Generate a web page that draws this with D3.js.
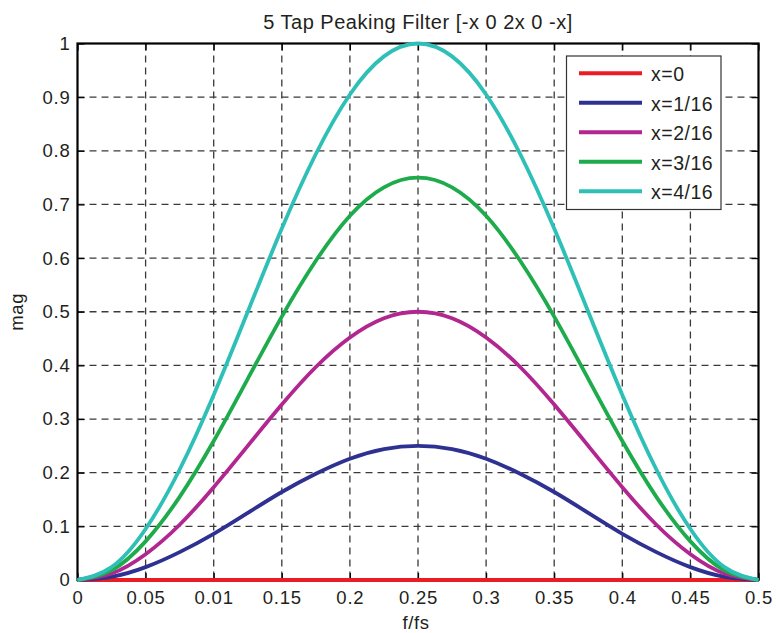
<!DOCTYPE html>
<html>
<head>
<meta charset="utf-8">
<script src="https://cdn.jsdelivr.net/npm/d3@7"></script>
<style>
  html, body { margin: 0; padding: 0; background: #fff; }
  svg { display: block; font-family: "Liberation Sans", Arial, sans-serif; }
</style>
</head>
<body>
<svg id="chart" width="776" height="633"></svg>
<script>
// ---- data ----
const freq = [0, 0.025, 0.05, 0.075, 0.1, 0.125, 0.15, 0.175, 0.2, 0.225, 0.25,
              0.275, 0.3, 0.325, 0.35, 0.375, 0.4, 0.425, 0.45, 0.475, 0.5];
const seriesNames = ["x=0", "x=1/16", "x=2/16", "x=3/16", "x=4/16"];
const magX0 = [0,0,0,0,0,0,0,0,0,0,0,0,0,0,0,0,0,0,0,0,0];
const magX1 = [0, 0.006, 0.024, 0.052, 0.086, 0.125, 0.164, 0.198, 0.226, 0.244, 0.25,
               0.244, 0.226, 0.198, 0.164, 0.125, 0.086, 0.052, 0.024, 0.006, 0];
const magX2 = [0, 0.012, 0.048, 0.103, 0.173, 0.25, 0.327, 0.397, 0.452, 0.488, 0.5,
               0.488, 0.452, 0.397, 0.327, 0.25, 0.173, 0.103, 0.048, 0.012, 0];
const magX3 = [0, 0.018, 0.072, 0.155, 0.259, 0.375, 0.491, 0.595, 0.679, 0.732, 0.75,
               0.732, 0.679, 0.595, 0.491, 0.375, 0.259, 0.155, 0.072, 0.018, 0];
const magX4 = [0, 0.024, 0.095, 0.206, 0.345, 0.5, 0.655, 0.794, 0.905, 0.976, 1,
               0.976, 0.905, 0.794, 0.655, 0.5, 0.345, 0.206, 0.095, 0.024, 0];
const seriesColors = ["#ec1c24", "#2e3192", "#b2268f", "#1dab4b", "#2ec0b7"];
const xTickValues = [0, 0.05, 0.1, 0.15, 0.2, 0.25, 0.3, 0.35, 0.4, 0.45, 0.5];
const xTickLabels = ["0", "0.05", "0.01", "0.15", "0.2", "0.25", "0.3", "0.35", "0.4", "0.45", "0.5"];
const yTickValues = [0, 0.1, 0.2, 0.3, 0.4, 0.5, 0.6, 0.7, 0.8, 0.9, 1];
const yTickLabels = ["0", "0.1", "0.2", "0.3", "0.4", "0.5", "0.6", "0.7", "0.8", "0.9", "1"];
const titleText = "5 Tap Peaking Filter [-x 0 2x 0 -x]";
const xLabel = "f/fs";
const yLabel = "mag";

const allSeries = [magX0, magX1, magX2, magX3, magX4];

// ---- layout ----
const L = 77.5, R = 758.5, T = 43.5, B = 580;
const svg = d3.select("#chart");
const x = d3.scaleLinear().domain([0, 0.5]).range([L, R]);
const y = d3.scaleLinear().domain([0, 1]).range([B, T]);

// grid
const grid = svg.append("g").attr("stroke", "#3a3a3a").attr("stroke-width", 1.3)
  .attr("stroke-dasharray", "7,5").attr("fill", "none");
grid.selectAll("line.v").data(xTickValues.slice(1, -1)).join("line")
  .attr("x1", d => x(d)).attr("x2", d => x(d)).attr("y1", T).attr("y2", B);
grid.selectAll("line.h").data(yTickValues.slice(1, -1)).join("line")
  .attr("y1", d => y(d)).attr("y2", d => y(d)).attr("x1", L).attr("x2", R);

// axes
const fontSize = "18.5px";
const xAxis = svg.append("g").attr("transform", `translate(0,${B})`)
  .call(d3.axisBottom(x).tickValues(xTickValues).tickFormat((d, i) => xTickLabels[i])
    .tickSizeInner(-7).tickSizeOuter(0).tickPadding(11));
const yAxis = svg.append("g").attr("transform", `translate(${L},0)`)
  .call(d3.axisLeft(y).tickValues(yTickValues).tickFormat((d, i) => yTickLabels[i])
    .tickSizeInner(-7).tickSizeOuter(0).tickPadding(7));
const xTop = svg.append("g").attr("transform", `translate(0,${T})`)
  .call(d3.axisTop(x).tickValues(xTickValues).tickFormat("").tickSizeInner(-7).tickSizeOuter(0));
const yRight = svg.append("g").attr("transform", `translate(${R},0)`)
  .call(d3.axisRight(y).tickValues(yTickValues).tickFormat("").tickSizeInner(-7).tickSizeOuter(0));
[xAxis, yAxis, xTop, yRight].forEach(g => {
  g.select(".domain").remove();
  g.selectAll(".tick line").attr("stroke", "#000").attr("stroke-width", 1.2);
  g.selectAll(".tick text").attr("fill", "#231f20").style("font-size", fontSize)
    .style("letter-spacing", "0.8px").style("font-family", "'Liberation Sans', Arial, sans-serif");
});

// frame
svg.append("rect").attr("x", L).attr("y", T).attr("width", R - L).attr("height", B - T)
  .attr("fill", "none").attr("stroke", "#000").attr("stroke-width", 2.2);

// curves
const line = d3.line().x((d, i) => x(freq[i])).y(d => y(d)).curve(d3.curveNatural);
svg.append("g").selectAll("path").data(allSeries).join("path")
  .attr("d", d => line(d))
  .attr("fill", "none")
  .attr("stroke", (d, i) => seriesColors[i])
  .attr("stroke-width", 3.8)
  .attr("stroke-linejoin", "round");

// title & axis labels
svg.append("text").attr("x", (L + R) / 2).attr("y", 28.5).attr("text-anchor", "middle")
  .style("font-size", "20px").style("letter-spacing", "0.5px").attr("fill", "#231f20").text(titleText);
svg.append("text").attr("x", 416).attr("y", 629).attr("text-anchor", "middle")
  .style("font-size", "18.5px").style("letter-spacing", "0.6px").attr("fill", "#231f20").text(xLabel);
svg.append("text").attr("transform", `translate(23,${(T + B) / 2}) rotate(-90)`).attr("text-anchor", "middle")
  .style("font-size", "18.5px").style("letter-spacing", "0.6px").attr("fill", "#231f20").text(yLabel);

// legend
const lg = svg.append("g");
lg.append("rect").attr("x", 566.5).attr("y", 56).attr("width", 154.5).attr("height", 153.5)
  .attr("fill", "#fff").attr("stroke", "#333").attr("stroke-width", 1.2);
const rowY = i => 73.3 + i * 29.5;
seriesNames.forEach((name, i) => {
  lg.append("line").attr("x1", 579).attr("x2", 642).attr("y1", rowY(i)).attr("y2", rowY(i))
    .attr("stroke", seriesColors[i]).attr("stroke-width", 4);
  lg.append("text").attr("x", 651).attr("y", rowY(i)).attr("dy", "0.42em")
    .style("font-size", "19.5px").style("letter-spacing", "0.5px").attr("fill", "#231f20").text(name);
});
</script>
</body>
</html>
